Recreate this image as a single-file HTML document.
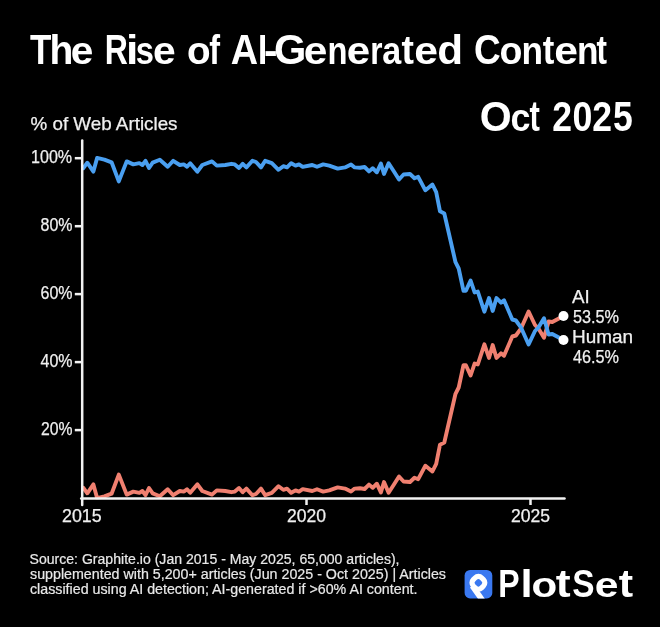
<!DOCTYPE html>
<html><head><meta charset="utf-8"><style>html,body{margin:0;padding:0;background:#000;width:660px;height:627px;overflow:hidden}svg{display:block;will-change:transform}</style></head>
<body><svg width="660" height="627" viewBox="0 0 660 627" font-family="Liberation Sans, sans-serif">
<rect width="660" height="627" fill="#000"/>

<g clip-path="url(#pc)"><polyline points="83.2,487.7 87.3,493.3 93.4,484.4 97.1,498.1 104.4,496.4 111.6,493.7 118.8,474.6 126.7,494.6 133.3,491.6 139.4,492.8 142.4,491.0 145.5,495.2 149.0,488.0 152.7,493.4 159.8,496.2 167.7,489.2 173.2,495.2 179.8,491.0 184.0,491.6 187.0,489.2 190.2,492.8 197.4,484.3 202.3,491.0 212.0,494.6 216.8,490.4 225.3,491.0 231.4,492.2 234.8,491.6 239.0,488.0 242.7,492.2 246.4,488.6 252.4,495.2 256.0,494.0 261.0,488.6 265.2,495.2 271.8,492.8 278.5,486.2 283.3,489.8 287.0,488.6 291.2,492.8 295.5,490.4 299.0,491.6 302.7,489.2 312.3,491.0 317.0,489.2 323.2,491.6 329.2,490.4 337.7,487.4 345.0,488.6 351.0,491.6 354.7,488.6 360.0,488.3 364.6,489.0 369.0,484.6 372.7,487.8 376.8,483.7 380.9,492.4 384.0,482.0 388.6,492.8 394.1,484.2 399.0,476.5 403.6,481.5 410.0,482.0 414.5,477.8 418.2,479.2 425.4,465.7 432.4,471.5 436.2,463.8 440.0,444.7 444.3,442.5 455.5,393.8 458.7,387.5 463.5,365.2 465.9,365.2 470.6,375.5 474.6,363.6 477.8,364.4 484.4,344.3 489.0,358.0 492.7,345.1 496.5,358.0 501.0,353.4 504.0,355.7 512.3,336.5 515.9,335.5 520.9,328.7 528.6,311.5 535.0,325.0 538.6,328.7 544.0,337.8 548.6,321.5 552.3,322.0 563.5,316.0" fill="none" stroke="#f08070" stroke-width="3.9" stroke-linejoin="round" stroke-linecap="round"/>
<polyline points="83.2,168.3 87.3,162.7 93.4,171.6 97.1,157.9 104.4,159.6 111.6,162.3 118.8,181.4 126.7,161.4 133.3,164.4 139.4,163.2 142.4,165.0 145.5,160.8 149.0,168.0 152.7,162.6 159.8,159.8 167.7,166.8 173.2,160.8 179.8,165.0 184.0,164.4 187.0,166.8 190.2,163.2 197.4,171.7 202.3,165.0 212.0,161.4 216.8,165.6 225.3,165.0 231.4,163.8 234.8,164.4 239.0,168.0 242.7,163.8 246.4,167.4 252.4,160.8 256.0,162.0 261.0,167.4 265.2,160.8 271.8,163.2 278.5,169.8 283.3,166.2 287.0,167.4 291.2,163.2 295.5,165.6 299.0,164.4 302.7,166.8 312.3,165.0 317.0,166.8 323.2,164.4 329.2,165.6 337.7,168.6 345.0,167.4 351.0,164.4 354.7,167.4 360.0,167.7 364.6,167.0 369.0,171.4 372.7,168.2 376.8,172.3 380.9,163.6 384.0,174.0 388.6,163.2 394.1,171.8 399.0,179.5 403.6,174.5 410.0,174.0 414.5,178.2 418.2,176.8 425.4,190.3 432.4,184.5 436.2,192.2 440.0,211.3 444.3,213.5 455.5,262.2 458.7,268.5 463.5,290.8 465.9,290.8 470.6,280.5 474.6,292.4 477.8,291.6 484.4,311.7 489.0,298.0 492.7,310.9 496.5,298.0 501.0,302.6 504.0,300.3 512.3,319.5 515.9,320.5 520.9,327.3 528.6,344.5 535.0,331.0 538.6,327.3 544.0,318.2 548.6,334.5 552.3,334.0 563.5,340.0" fill="none" stroke="#4a9ff0" stroke-width="3.9" stroke-linejoin="round" stroke-linecap="round"/></g>
<g stroke="#f2f2f2" stroke-width="2.5" fill="none">
<line x1="82.2" y1="140.5" x2="82.2" y2="505" stroke-linecap="round"/>
<line x1="81.2" y1="498.5" x2="564.5" y2="498.5" stroke-linecap="round"/>
<line x1="306.5" y1="498" x2="306.5" y2="505"/>
<line x1="530.5" y1="498" x2="530.5" y2="505"/>
<line x1="74.8" y1="158.2" x2="83" y2="158.2"/>
<line x1="74.8" y1="226.2" x2="83" y2="226.2"/>
<line x1="74.8" y1="294.1" x2="83" y2="294.1"/>
<line x1="74.8" y1="362.1" x2="83" y2="362.1"/>
<line x1="74.8" y1="430.1" x2="83" y2="430.1"/>
</g>
<circle cx="563.5" cy="316" r="5" fill="#fff"/>
<circle cx="563.5" cy="340" r="5" fill="#fff"/>
<text transform="translate(30.11 63.5) scale(0.843 1.026)" font-weight="bold" font-size="41.5" fill="#fff">T</text><text transform="translate(49.57 63.5) scale(0.941 0.975)" font-weight="bold" font-size="41.5" fill="#fff">h</text><text transform="translate(70.71 63.5) scale(0.978 0.926)" font-weight="bold" font-size="41.5" fill="#fff">e</text><text transform="translate(104.86 63.5) scale(0.771 1.026)" font-weight="bold" font-size="41.5" fill="#fff">R</text><text transform="translate(126.0 63.5) scale(1.071 0.975)" font-weight="bold" font-size="41.5" fill="#fff">i</text><text transform="translate(135.85 63.5) scale(0.788 0.926)" font-weight="bold" font-size="41.5" fill="#fff">s</text><text transform="translate(152.91 63.5) scale(0.983 0.926)" font-weight="bold" font-size="41.5" fill="#fff">e</text><text transform="translate(186.99 63.5) scale(0.932 0.926)" font-weight="bold" font-size="41.5" fill="#fff">o</text><text transform="translate(209.15 63.5) scale(0.781 0.975)" font-weight="bold" font-size="41.5" fill="#fff">f</text><text transform="translate(230.66 63.5) scale(0.912 1.026)" font-weight="bold" font-size="41.5" fill="#fff">A</text><text transform="translate(257.97 63.5) scale(0.803 1.026)" font-weight="bold" font-size="41.5" fill="#fff">I</text><text transform="translate(264.02 63.5) scale(0.977 1.0)" font-weight="bold" font-size="41.5" fill="#fff">-</text><text transform="translate(273.99 63.5) scale(1.003 1.026)" font-weight="bold" font-size="41.5" fill="#fff">G</text><text transform="translate(303.84 63.5) scale(1.023 0.926)" font-weight="bold" font-size="41.5" fill="#fff">e</text><text transform="translate(327.54 63.5) scale(0.788 0.926)" font-weight="bold" font-size="41.5" fill="#fff">n</text><text transform="translate(346.86 63.5) scale(1.013 0.926)" font-weight="bold" font-size="41.5" fill="#fff">e</text><text transform="translate(370.22 63.5) scale(0.759 0.926)" font-weight="bold" font-size="41.5" fill="#fff">r</text><text transform="translate(382.2 63.5) scale(0.822 0.926)" font-weight="bold" font-size="41.5" fill="#fff">a</text><text transform="translate(401.55 63.5) scale(0.898 1.0)" font-weight="bold" font-size="41.5" fill="#fff">t</text><text transform="translate(414.23 63.5) scale(1.028 0.926)" font-weight="bold" font-size="41.5" fill="#fff">e</text><text transform="translate(437.17 63.5) scale(1.019 0.975)" font-weight="bold" font-size="41.5" fill="#fff">d</text><text transform="translate(473.98 63.5) scale(0.892 1.026)" font-weight="bold" font-size="41.5" fill="#fff">C</text><text transform="translate(499.43 63.5) scale(0.905 0.926)" font-weight="bold" font-size="41.5" fill="#fff">o</text><text transform="translate(521.58 63.5) scale(0.848 0.926)" font-weight="bold" font-size="41.5" fill="#fff">n</text><text transform="translate(542.78 63.5) scale(0.836 1.0)" font-weight="bold" font-size="41.5" fill="#fff">t</text><text transform="translate(554.13 63.5) scale(1.028 0.926)" font-weight="bold" font-size="41.5" fill="#fff">e</text><text transform="translate(577.08 63.5) scale(0.848 0.926)" font-weight="bold" font-size="41.5" fill="#fff">n</text><text transform="translate(596.62 63.5) scale(0.757 1.0)" font-weight="bold" font-size="41.5" fill="#fff">t</text><text transform="translate(479.82 130.6) scale(0.984 1.027)" font-weight="bold" font-size="41.7" fill="#fff">O</text><text transform="translate(510.4 130.6) scale(0.86 0.94)" font-weight="bold" font-size="41.7" fill="#fff">c</text><text transform="translate(529.62 130.6) scale(0.746 1.0)" font-weight="bold" font-size="41.7" fill="#fff">t</text><text transform="translate(552.17 130.6) scale(0.852 1.0)" font-weight="bold" font-size="41.7" fill="#fff">2</text><text transform="translate(572.49 130.6) scale(0.857 1.0)" font-weight="bold" font-size="41.7" fill="#fff">0</text><text transform="translate(592.37 130.6) scale(0.852 1.0)" font-weight="bold" font-size="41.7" fill="#fff">2</text><text transform="translate(613.01 130.6) scale(0.853 1.0)" font-weight="bold" font-size="41.7" fill="#fff">5</text><text transform="translate(498.36 597.1) scale(0.835 1.0)" font-weight="bold" font-size="38.3" fill="#fff">P</text><text transform="translate(520.45 597.1) scale(1.142 1.0)" font-weight="bold" font-size="38.3" fill="#fff">l</text><text transform="translate(531.56 597.1) scale(1.098 0.91)" font-weight="bold" font-size="38.3" fill="#fff">o</text><text transform="translate(555.65 597.1) scale(1.168 1.0)" font-weight="bold" font-size="38.3" fill="#fff">t</text><text transform="translate(572.34 597.1) scale(0.872 1.0)" font-weight="bold" font-size="38.3" fill="#fff">S</text><text transform="translate(594.73 597.1) scale(1.114 0.91)" font-weight="bold" font-size="38.3" fill="#fff">e</text><text transform="translate(618.87 597.1) scale(1.125 1.0)" font-weight="bold" font-size="38.3" fill="#fff">t</text>
<text x="30.5" y="129.8" font-size="18.85" fill="#f0f0f0" stroke="#f0f0f0" stroke-width="0.25" textLength="147.01" lengthAdjust="spacingAndGlyphs">% of Web Articles</text><text x="31.0" y="162.8" font-size="18.72" fill="#f0f0f0" stroke="#f0f0f0" stroke-width="0.25" textLength="41.12" lengthAdjust="spacingAndGlyphs">100%</text><text x="40.5" y="230.8" font-size="18.85" fill="#f0f0f0" stroke="#f0f0f0" stroke-width="0.25" textLength="32.05" lengthAdjust="spacingAndGlyphs">80%</text><text x="40.5" y="298.8" font-size="18.85" fill="#f0f0f0" stroke="#f0f0f0" stroke-width="0.25" textLength="32.05" lengthAdjust="spacingAndGlyphs">60%</text><text x="40.5" y="366.9" font-size="18.85" fill="#f0f0f0" stroke="#f0f0f0" stroke-width="0.25" textLength="32.02" lengthAdjust="spacingAndGlyphs">40%</text><text x="41.0" y="434.9" font-size="18.85" fill="#f0f0f0" stroke="#f0f0f0" stroke-width="0.25" textLength="31.54" lengthAdjust="spacingAndGlyphs">20%</text><text x="62.0" y="522.3" font-size="18.16" fill="#f0f0f0" stroke="#f0f0f0" stroke-width="0.25" textLength="39.59" lengthAdjust="spacingAndGlyphs">2015</text><text x="287.0" y="522.3" font-size="18.16" fill="#f0f0f0" stroke="#f0f0f0" stroke-width="0.25" textLength="39.04" lengthAdjust="spacingAndGlyphs">2020</text><text x="511.0" y="522.3" font-size="18.16" fill="#f0f0f0" stroke="#f0f0f0" stroke-width="0.25" textLength="39.07" lengthAdjust="spacingAndGlyphs">2025</text><text x="572.0" y="302.9" font-size="18.3" fill="#f0f0f0" stroke="#f0f0f0" stroke-width="0.25" textLength="17.74" lengthAdjust="spacingAndGlyphs">AI</text><text x="573.0" y="323" font-size="18.58" fill="#f0f0f0" stroke="#f0f0f0" stroke-width="0.25" textLength="46.04" lengthAdjust="spacingAndGlyphs">53.5%</text><text x="572.0" y="342.8" font-size="18.3" fill="#f0f0f0" stroke="#f0f0f0" stroke-width="0.25" textLength="61.13" lengthAdjust="spacingAndGlyphs">Human</text><text x="573.0" y="363" font-size="18.44" fill="#f0f0f0" stroke="#f0f0f0" stroke-width="0.25" textLength="46.03" lengthAdjust="spacingAndGlyphs">46.5%</text>
<text x="29.5" y="564.2" font-size="14.25" fill="#e8e8e8" stroke="#e8e8e8" stroke-width="0.2" textLength="370.02" lengthAdjust="spacingAndGlyphs">Source: Graphite.io (Jan 2015 - May 2025, 65,000 articles),</text><text x="30.0" y="578.8" font-size="14.25" fill="#e8e8e8" stroke="#e8e8e8" stroke-width="0.2" textLength="416.0" lengthAdjust="spacingAndGlyphs">supplemented with 5,200+ articles (Jun 2025 - Oct 2025) | Articles</text><text x="30.0" y="594" font-size="14.25" fill="#e8e8e8" stroke="#e8e8e8" stroke-width="0.2" textLength="387.51" lengthAdjust="spacingAndGlyphs">classified using AI detection; AI-generated if &gt;60% AI content.</text>
<defs><clipPath id="lc"><rect x="464.6" y="570" width="27.7" height="28.4" rx="5.5"/></clipPath><clipPath id="pc"><rect x="0" y="0" width="660" height="499.3"/></clipPath></defs>
<rect x="464.6" y="570" width="27.7" height="28.4" rx="5.5" fill="#3a78f0"/>
<g clip-path="url(#lc)" fill="none" stroke="#fff">
<g transform="rotate(45 478.4 582.8)"><rect x="472.56" y="576.96" width="11.68" height="11.68" rx="4.5" stroke-width="5.2"/></g>
<line x1="472.3" y1="585.8" x2="482.5" y2="600.3" stroke-width="5.7"/>
</g>
</svg></body></html>
